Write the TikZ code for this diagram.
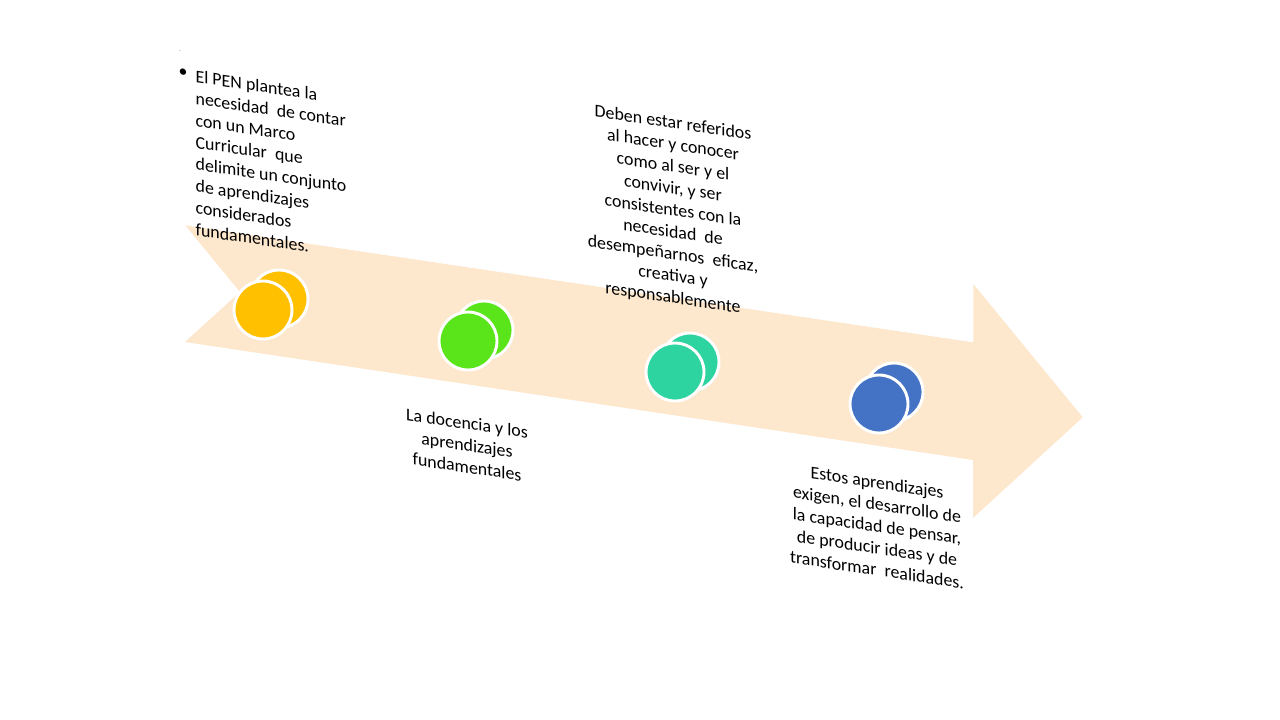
\documentclass[tikz,border=0pt]{standalone}
\usepackage{fontspec}
\setmainfont{Carlito}
\definecolor{peach}{RGB}{253,231,205}
\definecolor{yellowc}{RGB}{255,192,0}
\definecolor{greenc}{RGB}{90,228,26}
\definecolor{tealc}{RGB}{46,212,160}
\definecolor{bluec}{RGB}{68,114,196}
\begin{document}
\begin{tikzpicture}[x=0.75pt,y=-0.75pt,
    dot/.style={circle, draw=white, line width=2.2pt, minimum size=43.5pt, inner sep=0pt},
    txt/.style={inner sep=0pt, text=black, font=\fontsize{13.4}{16.4}\selectfont, yslant=-0.1485}]
      \useasboundingbox[fill=white] (0,0) rectangle (1280,720);
      % Arrow
      \fill[peach] (185,225) -- (973,342) -- (973,283) -- (1083,417) -- (973,518)
        -- (973,460) -- (185,342) -- (240,292) -- cycle;
      \draw[white, thin] (185,225) -- (973,342) -- (973,283) -- (1083,417);

      % Circles (back, then front)
      \node[dot, fill=yellowc] (y2) at (279,299) {};
      \node[dot, fill=yellowc] (y1) at (263,310) {};
      \node[dot, fill=greenc] (g2) at (484,330) {};
      \node[dot, fill=greenc] (g1) at (468,341) {};
      \node[dot, fill=tealc] (c2) at (690,362) {};
      \node[dot, fill=tealc] (c1) at (675,372) {};
      \node[dot, fill=bluec] (b2) at (894,392) {};
      \node[dot, fill=bluec] (b1) at (879,404) {};

      % Texts
      \node[font=\tiny, text=black!60] (pt) at (180,51) {.};
      \node[txt] (bul) at (183,73) {\textbullet};
      \node[txt, align=left] (t1) at (271,164) {El PEN plantea la\\necesidad\ \ de contar\\con un Marco\\Curricular\ \ que\\delimite un conjunto\\de aprendizajes\\considerados\\fundamentales.};
      \node[txt, align=center] (t2) at (673,211) {Deben estar referidos\\al hacer y conocer\\como al ser y el\\convivir, y ser\\consistentes con la\\necesidad\ \ de\\desempeñarnos\ \ eficaz,\\creativa y\\responsablemente};
      \node[txt, align=center] (t3) at (467,445) {La docencia y los\\aprendizajes\\fundamentales};
      \node[txt, align=center] (t4) at (877,526) {Estos aprendizajes\\exigen, el desarrollo de\\la capacidad de pensar,\\de producir ideas y de\\transformar\ \ realidades.};
    \end{tikzpicture}
\end{document}
